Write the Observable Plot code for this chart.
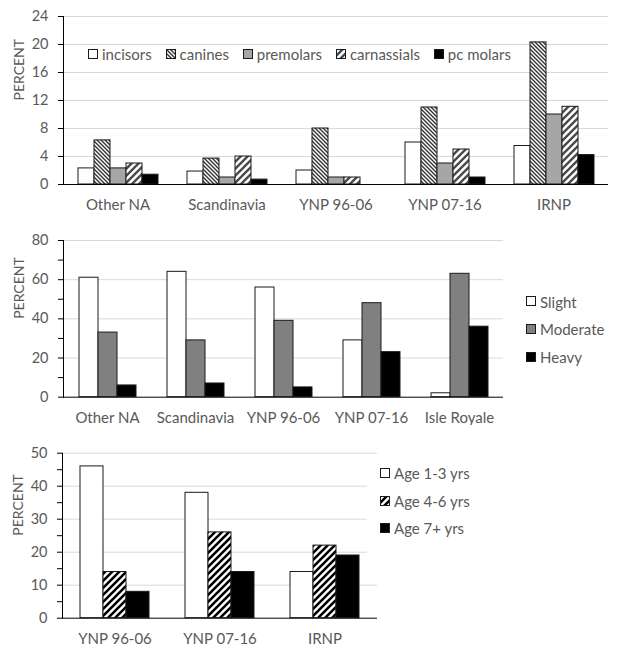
<!DOCTYPE html>
<html>
<head>
<meta charset="utf-8">
<script src="https://cdn.jsdelivr.net/npm/d3@7"></script>
<script src="https://cdn.jsdelivr.net/npm/@observablehq/plot@0.6"></script>
<style>
  body { margin: 0; background: white; width: 617px; height: 654px; overflow: hidden; font-family: Lato, "Open Sans", sans-serif; }
  .chart { position: relative; }
  .chart svg { display: block; }
  .legend-item { position: absolute; display: flex; align-items: center; height: 18px; font-size: 15px; color: #595959; white-space: nowrap; }
  .legend-row { position: absolute; display: flex; justify-content: space-between; align-items: center; height: 18px; }
  .legend-row .legend-item { position: static; }
  .legend-item svg { margin-right: 3px; }
</style>
</head>
<body>
<svg width="0" height="0" style="position:absolute">
  <defs>
    <pattern id="pCanine" patternUnits="userSpaceOnUse" width="4" height="4">
      <rect width="4" height="4" fill="white"/>
      <path d="M0,0L4,4M3,-1L5,1M-1,3L1,5" stroke="#333" stroke-width="1.4"/>
    </pattern>
    <pattern id="pCarn" patternUnits="userSpaceOnUse" width="7" height="7">
      <rect width="7" height="7" fill="white"/>
      <path d="M0,7L7,0M-1,1L1,-1M6,8L8,6" stroke="#4a4a4a" stroke-width="2.4"/>
    </pattern>
    <pattern id="pAge" patternUnits="userSpaceOnUse" width="7" height="7">
      <rect width="7" height="7" fill="white"/>
      <path d="M0,7L7,0M-1,1L1,-1M6,8L8,6" stroke="#000" stroke-width="2.6"/>
    </pattern>
  </defs>
</svg>
<div id="c1" class="chart"></div>
<div id="c2" class="chart"></div>
<div id="c3" class="chart"></div>
<script>
// ---------- Data ----------
const teethCategories = ["Other NA", "Scandinavia", "YNP 96-06", "YNP 07-16", "IRNP"];
const teethSeries = ["incisors", "canines", "premolars", "carnassials", "pc molars"];
const incisors    = [2.3, 1.85, 2.0, 6.0, 5.5];
const canines     = [6.3, 3.7, 8.0, 11.0, 20.3];
const premolars   = [2.3, 1.0, 1.0, 3.0, 10.0];
const carnassials = [3.0, 4.0, 1.0, 5.0, 11.1];
const pcMolars    = [1.4, 0.7, 0, 1.0, 4.2];
const teethTicks  = [0, 4, 8, 12, 16, 20, 24];

const wearCategories = ["Other NA", "Scandinavia", "YNP 96-06", "YNP 07-16", "Isle Royale"];
const wearSeries = ["Slight", "Moderate", "Heavy"];
const slight   = [61, 64, 56, 29, 2];
const moderate = [33, 29, 39, 48, 63];
const heavy    = [6, 7, 5, 23, 36];
const wearTicks = [0, 20, 40, 60, 80];

const ageCategories = ["YNP 96-06", "YNP 07-16", "IRNP"];
const ageSeries = ["Age 1-3 yrs", "Age 4-6 yrs", "Age 7+ yrs"];
const age13 = [46, 38, 14];
const age46 = [14, 26, 22];
const age7  = [8, 14, 19];
const ageTicks = [0, 10, 20, 30, 40, 50];

const yLabel = "PERCENT";

// ---------- Helpers ----------
function toRows(categories, series, values) {
  return categories.flatMap((c, i) => series.map((s, j) => ({category: c, series: s, value: values[j][i]})));
}

function groupedChart(o) {
  const labelSet = new Set(o.labelTicks);
  return Plot.plot({
    width: 617, height: o.height,
    marginLeft: 62, marginRight: o.marginRight, marginTop: o.marginTop, marginBottom: o.marginBottom,
    style: {fontFamily: "Lato, 'Open Sans', sans-serif", fontSize: "14px", color: "#595959", background: "white"},
    fx: {domain: o.categories, padding: 0, label: null},
    x: {domain: o.series, paddingInner: 0, paddingOuter: o.paddingOuter, axis: null},
    y: {domain: o.yDomain, axis: null},
    color: {domain: o.series, range: o.fills},
    marks: [
      Plot.gridY(o.gridTicks, {stroke: "#d9d9d9", strokeOpacity: 1}),
      Plot.barY(o.data, {fx: "category", x: "series", y: "value", fill: "series", stroke: "#1a1a1a", strokeWidth: 1}),
      Plot.ruleY([0], {stroke: "#000"}),
      Plot.axisY({ticks: o.tickValues, tickSize: 5, tickPadding: 10, stroke: "#000", fill: "#595959",
                  tickFormat: d => labelSet.has(d) ? String(d) : "", label: null, fontSize: 14.5}),
      Plot.axisFx({anchor: "bottom", tickSize: 0, tickPadding: 15, label: null, fontSize: 15, fill: "#595959"}),
      Plot.frame({anchor: "left", facetAnchor: "left", stroke: "#000"}),
      Plot.text([yLabel], {text: d => d, frameAnchor: "left", dx: -44, rotate: -90, facetAnchor: "left",
                           fill: "#595959", fontSize: 14})
    ]
  });
}

function legendItem(label, fill, box) {
  const item = document.createElement("div");
  item.className = "legend-item";
  item.innerHTML = `<svg width="${box + 1}" height="${box + 1}"><rect x="0.5" y="0.5" width="${box - 1}" height="${box - 1}" fill="${fill}" stroke="#1a1a1a" stroke-width="1"/></svg><span>${label}</span>`;
  return item;
}

function addLegend(container, series, fills, positions, box) {
  series.forEach((s, i) => {
    const p = positions[i];
    const item = legendItem(s, fills[i], box);
    item.style.left = p[0] + "px";
    item.style.top = (p[1] - 9) + "px";
    container.appendChild(item);
  });
}

function addLegendRow(container, series, fills, left, right, yc, box) {
  const row = document.createElement("div");
  row.className = "legend-row";
  row.style.left = left + "px";
  row.style.width = (right - left) + "px";
  row.style.top = (yc - 9) + "px";
  series.forEach((s, i) => row.appendChild(legendItem(s, fills[i], box)));
  container.appendChild(row);
}

// ---------- Chart 1 ----------
const teethFills = ["white", "url(#pCanine)", "#a6a6a6", "url(#pCarn)", "black"];
const c1 = document.getElementById("c1");
c1.appendChild(groupedChart({
  data: toRows(teethCategories, teethSeries, [incisors, canines, premolars, carnassials, pcMolars]),
  categories: teethCategories, series: teethSeries, fills: teethFills,
  height: 215, marginTop: 16, marginBottom: 31, marginRight: 8,
  yDomain: [0, 24], gridTicks: teethTicks.slice(1), tickValues: teethTicks, labelTicks: teethTicks,
  paddingOuter: 0.717
}));
addLegendRow(c1, teethSeries, teethFills, 88, 511, 54, 10);

// ---------- Chart 2 ----------
const wearFills = ["white", "#808080", "black"];
const c2 = document.getElementById("c2");
c2.appendChild(groupedChart({
  data: toRows(wearCategories, wearSeries, [slight, moderate, heavy]),
  categories: wearCategories, series: wearSeries, fills: wearFills,
  height: 210, marginTop: 25, marginBottom: 28.3, marginRight: 114,
  yDomain: [0, 80], gridTicks: wearTicks.slice(1), tickValues: d3.range(0, 81, 10), labelTicks: wearTicks,
  paddingOuter: 0.773
}));
addLegend(c2, wearSeries, wearFills, [[526, 86.7], [526, 114], [526, 142]], 10);

// ---------- Chart 3 ----------
const ageFills = ["white", "url(#pAge)", "black"];
const c3 = document.getElementById("c3");
c3.appendChild(groupedChart({
  data: toRows(ageCategories, ageSeries, [age13, age46, age7]),
  categories: ageCategories, series: ageSeries, fills: ageFills,
  height: 229, marginTop: 27.7, marginBottom: 36.3, marginRight: 239.3,
  yDomain: [0, 50], gridTicks: ageTicks.slice(1), tickValues: d3.range(0, 51, 5), labelTicks: ageTicks,
  paddingOuter: 0.75
}));
const legBg = document.createElement("div");
legBg.style.cssText = "position:absolute;left:367px;top:35px;width:110px;height:96px;background:white;";
c3.appendChild(legBg);
addLegend(c3, ageSeries, ageFills, [[380, 48.3], [380, 76], [380, 103.3]], 10);
</script>
</body>
</html>
